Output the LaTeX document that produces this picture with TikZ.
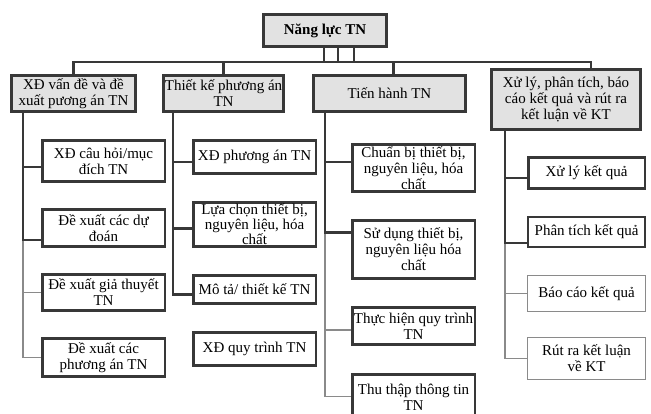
\documentclass[tikz,border=0pt]{standalone}
\usepackage{fontspec}
\setmainfont{Liberation Serif}
\usepackage{tikz}
\usetikzlibrary{positioning}
\definecolor{edgedark}{HTML}{383838}
\definecolor{edgegray}{HTML}{8A8A8A}
\definecolor{headfill}{HTML}{E2E2E2}

\begin{document}
\begin{tikzpicture}[x=1pt, y=1pt,
      every node/.style={font=\fontsize{15}{16}\selectfont, align=center, inner sep=1pt},
      box/.style={
        draw=edgedark, line width=2.6pt,
        fill=white,
        minimum width=122.5pt
      },
      thinbox/.style={
        draw=edgegray, line width=1pt,
        fill=white,
        minimum width=118pt
      },
      headbox/.style={box, fill=headfill, anchor=north west},
      link/.style={draw=edgedark, line width=2.2pt},
      thinlink/.style={draw=edgegray, line width=1.1pt}
    ]
      \useasboundingbox (0,0) rectangle (651,-414);

      \node[headbox, minimum width=123.4pt, minimum height=32.4pt,
        font=\fontsize{15}{16}\selectfont\bfseries] (nl) at (262,-13) {Năng lực TN};

      \node[headbox, minimum width=124.4pt, minimum height=36.4pt] (xd) at (10,-74)
        {XĐ vấn đề và đề\\xuất pương án TN};
      \node[headbox, minimum width=120.4pt, minimum height=36.4pt] (tk) at (162,-74)
        {Thiết kế phương án\\TN};
      \node[headbox, minimum width=152.4pt, minimum height=36.4pt] (th) at (312,-74)
        {Tiến hành TN};
      \node[headbox, minimum width=149.4pt, minimum height=60.4pt] (xl) at (490,-68)
        {Xử lý, phân tích, báo\\cáo kết quả và rút ra\\kết luận về KT};

      % XD van de
      \node[box, minimum height=41.4pt, below=26pt of xd.south west, anchor=north west, xshift=31pt] (xd1)
        {XĐ câu hỏi/mục\\đích TN};
      \node[box, minimum height=37.4pt, below=25pt of xd1] (xd2) {Đề xuất các dự\\đoán};
      \node[box, minimum height=36.4pt, below=25pt of xd2] (xd3) {Đề xuất giả thuyết\\TN};
      \node[box, minimum height=38.4pt, below=25pt of xd3] (xd4) {Đề xuất các\\phương án TN};

      % Thiet ke
      \node[box, minimum height=33.4pt, below=26pt of tk.south west, anchor=north west, xshift=30pt] (tk1)
        {XĐ phương án TN};
      \node[box, minimum height=44.4pt, below=26pt of tk1, font=\fontsize{15}{15}\selectfont] (tk2)
        {Lựa chọn thiết bị,\\nguyên liệu, hóa\\chất};
      \node[box, minimum height=28.4pt, below=26pt of tk2] (tk3) {Mô tả/ thiết kế TN};
      \node[box, minimum height=33.4pt, below=26pt of tk3] (tk4) {XĐ quy trình TN};

      % Tien hanh
      \node[box, minimum height=47.4pt, below=30pt of th.south west, anchor=north west, xshift=39pt] (th1)
        {Chuẩn bị thiết bị,\\nguyên liệu, hóa\\chất};
      \node[box, minimum height=58.4pt, below=26pt of th1] (th2) {Sử dụng thiết bị,\\nguyên liệu hóa\\chất};
      \node[box, minimum height=37.4pt, below=26pt of th2] (th3) {Thực hiện quy trình\\TN};
      \node[box, minimum height=45pt, below=27pt of th3] (th4) {Thu thập thông tin\\TN};

      % Xu ly
      \node[box, minimum width=116.5pt, minimum height=31.4pt, below=25pt of xl.south west, anchor=north west, xshift=37pt] (xl1)
        {Xử lý kết quả};
      \node[box, minimum width=116.5pt, line width=2pt, minimum height=30pt, below=26pt of xl1] (xl2) {Phân tích kết quả};
      \node[thinbox, minimum width=118pt, minimum height=36pt, below=27pt of xl2] (xl3) {Báo cáo kết quả};
      \node[thinbox, minimum width=118pt, minimum height=42pt, below=25pt of xl3] (xl4) {Rút ra kết luận\\về KT};

      \coordinate (s1) at ([xshift=-1pt]nl.south);
      \coordinate (s2) at ([xshift=13pt]nl.south);
      \coordinate (s3) at ([xshift=29pt]nl.south);
      \coordinate (xdsp) at ([xshift=13pt]xd.south west);
      \coordinate (tksp) at ([xshift=11pt]tk.south west);
      \coordinate (thsp) at ([xshift=13pt]th.south west);
      \coordinate (xlsp) at ([xshift=15pt]xl.south west);

      \draw[thinlink] (xdsp) |- (xd3.west);
      \draw[thinlink] (xdsp) |- (xd4.west);
      \draw[thinlink] (thsp) |- ([yshift=-4pt]th3.west);
      \draw[thinlink] (thsp) |- (th4.west);
      \draw[thinlink] (xlsp) |- (xl3.west);
      \draw[thinlink] (xlsp) |- (xl4.west);

      \draw[link] (s1) -- ++(0,-14) -| (xd.north);
      \draw[link] (s2) -- ++(0,-14) -| (tk.north);
      \draw[link] (s3) -- ++(0,-14) -| ([xshift=4pt]th.north);
      \draw[link] (s1) -- ++(0,-14) -| ([xshift=25pt]xl.north);

      \draw[link] (xdsp) |- ([yshift=-6pt]xd1.west);
      \draw[link] (xdsp) |- ([yshift=-12pt]xd2.west);
      \draw[link] (tksp) |- ([yshift=-5pt]tk1.west);
      \draw[link] (tksp) |- ([yshift=-4pt]tk2.west);
      \draw[link] (tksp) |- ([yshift=-5pt]tk3.west);
      \draw[link] (thsp) |- ([yshift=6pt]th1.west);
      \draw[link] (thsp) |- ([yshift=17pt]th2.west);
      \draw[link] (xlsp) |- ([yshift=-5pt]xl1.west);
      \draw[link] (xlsp) |- ([yshift=-11pt]xl2.west);
    \end{tikzpicture}
\end{document}
